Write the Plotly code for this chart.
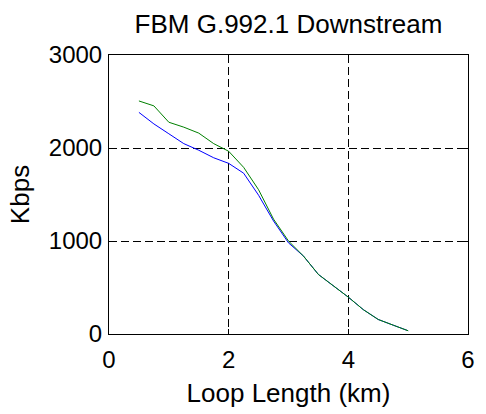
import plotly.graph_objects as go

loop_km = [0.5, 0.75, 1.0, 1.25, 1.5, 1.75, 2.0, 2.25, 2.5, 2.75, 3.0, 3.25, 3.5, 3.75, 4.0, 4.25, 4.5, 4.75, 5.0]
blue_kbps = [2383, 2259, 2153, 2047, 1976, 1895, 1835, 1729, 1492, 1215, 980, 838, 640, 517, 396, 262, 156, 95, 35]
green_kbps = [2506, 2453, 2277, 2224, 2160, 2047, 1965, 1792, 1551, 1235, 1000, 838, 640, 517, 396, 262, 156, 95, 35]
x_ticks = [0, 2, 4, 6]
y_ticks = [0, 1000, 2000, 3000]

FONT = "Liberation Sans, Arial, Helvetica, sans-serif"

fig = go.Figure()
fig.add_trace(go.Scatter(x=loop_km, y=blue_kbps, mode="lines",
                         line=dict(color="#0000ff", width=1), showlegend=False))
fig.add_trace(go.Scatter(x=loop_km, y=green_kbps, mode="lines",
                         line=dict(color="#008000", width=1), showlegend=False))

axis_common = dict(
    showline=True, linecolor="black", linewidth=1, mirror="ticks",
    ticks="inside", ticklen=5, tickcolor="black", tickwidth=1,
    showgrid=True, gridcolor="black", gridwidth=1, griddash="8px,4px",
    zeroline=False, tickfont=dict(family=FONT, size=24, color="black"),
    ticklabeloverflow="allow",
)

fig.update_xaxes(range=[0, 6], tickvals=x_ticks, ticktext=[str(v) for v in x_ticks],
                 title=dict(text="Loop Length (km)", font=dict(family=FONT, size=26, color="black"), standoff=12),
                 ticklabelstandoff=4, **axis_common)
fig.update_yaxes(range=[0, 3000], tickvals=y_ticks, ticktext=[str(v) for v in y_ticks],
                 title=dict(text="Kbps", font=dict(family=FONT, size=26, color="black"), standoff=11),
                 ticklabelstandoff=1, **axis_common)

fig.update_layout(
    width=486, height=414,
    margin=dict(l=109, r=11, t=55, b=76),
    paper_bgcolor="white", plot_bgcolor="white",
    hovermode=False,
    title=dict(text="FBM G.992.1 Downstream", x=0.5, xanchor="center", xref="paper",
               y=0.942, yanchor="middle", yref="container",
               font=dict(family=FONT, size=26, color="black")),
)

fig.write_html("out.html", config={"displayModeBar": False, "staticPlot": True},
               post_script="document.body.style.margin='0';")
